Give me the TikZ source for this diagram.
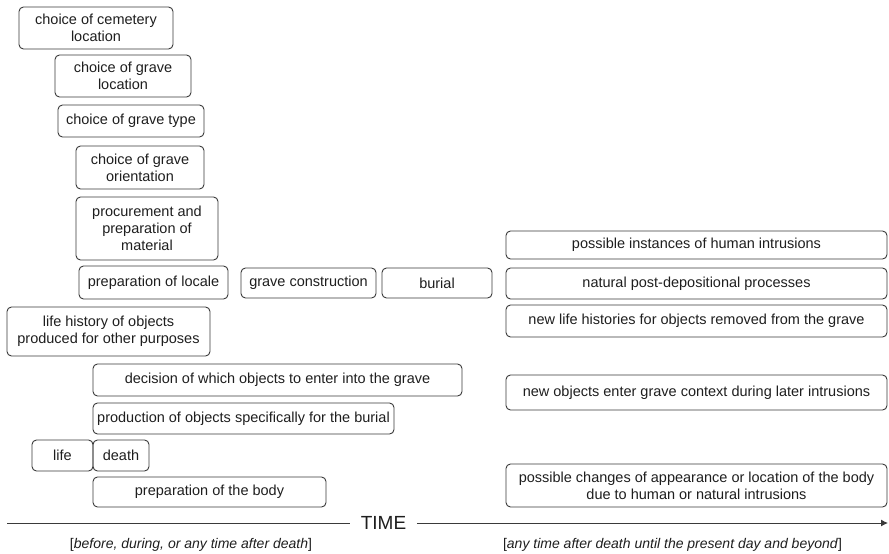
\documentclass[tikz,border=0pt]{standalone}
\usepackage{fontspec}
\setmainfont{Liberation Sans}
\usetikzlibrary{arrows.meta}
\definecolor{edge}{HTML}{3A3A3A}
\definecolor{ink}{HTML}{1E1E1E}
\begin{document}
\begin{tikzpicture}[x=1pt,y=-1pt,
  box/.style={draw=edge, line width=0.9pt, rounded corners=4.5pt, align=center,
    inner sep=1pt, text=ink, font=\fontsize{14.5}{17.3}\selectfont},
  axis/.style={draw=edge, line width=1pt},
  note/.style={text=ink, font=\fontsize{14}{17}\selectfont, inner sep=0pt}]
\useasboundingbox (0,0) rectangle (889,554);
% left column
\node[box, minimum width=154pt, minimum height=42pt] (cem) at (96,28) {choice of cemetery\\location};
\node[box, minimum width=136pt, minimum height=42pt] (gloc) at (123,76) {choice of grave\\location};
\node[box, minimum width=146pt, minimum height=32pt] (gtype) at (131,121) {choice of grave type};
\node[box, minimum width=128pt, minimum height=43pt] (orient) at (140,167.5) {choice of grave\\orientation};
\node[box, minimum width=142pt, minimum height=63pt] (procure) at (147,228.5) {procurement and\\preparation of\\material};
\node[box, minimum width=149pt, minimum height=33pt] (locale) at (153.5,282.5) {preparation of locale};
\node[box, minimum width=135pt, minimum height=30pt] (constr) at (308.5,283) {grave construction};
\node[box, minimum width=110pt, minimum height=30pt] (burial) at (437,283) {burial};
\node[box, minimum width=203pt, minimum height=49pt] (lifehist) at (108.5,331.5) {life history of objects\\produced for other purposes};
\node[box, minimum width=369pt, minimum height=32pt] (decision) at (277.5,380) {decision of which objects to enter into the grave};
\node[box, minimum width=301pt, minimum height=31pt] (production) at (243.5,418.5) {production of objects specifically for the burial};
\node[box, minimum width=61pt, minimum height=31pt] (life) at (62.5,455.5) {life};
\node[box, minimum width=56pt, minimum height=31pt] (death) at (121,455.5) {death};
\node[box, minimum width=233pt, minimum height=30pt] (body) at (209.5,492) {preparation of the body};
% right column
\node[box, minimum width=381pt, minimum height=28pt] (humint) at (696.5,245) {possible instances of human intrusions};
\node[box, minimum width=381pt, minimum height=31pt] (natural) at (696.5,283.5) {natural post-depositional processes};
\node[box, minimum width=381pt, minimum height=32pt] (newlife) at (696.5,321) {new life histories for objects removed from the grave};
\node[box, minimum width=381pt, minimum height=35pt] (newobj) at (696.5,392.5) {new objects enter grave context during later intrusions};
\node[box, minimum width=381pt, minimum height=43pt] (changes) at (696.5,485.5) {possible changes of appearance or location of the body\\due to human or natural intrusions};
% time axis
\coordinate (tstart) at (7,523);
\coordinate (tend) at (888,523);
\node[text=ink, font=\fontsize{19}{22}\selectfont, inner xsep=10.5pt, inner ysep=0pt] (time) at (383.5,523) {TIME};
\draw[axis] (tstart) -- (time.west);
\draw[axis, -{Latex[length=7pt,width=7pt]}] (time.east) -- (tend);
\node[note] (before) at (191,545) {[\textit{before, during, or any time after death}]};
\node[note] (after) at (672.5,545) {[\textit{any time after death until the present day and beyond}]};
\end{tikzpicture}
\end{document}
